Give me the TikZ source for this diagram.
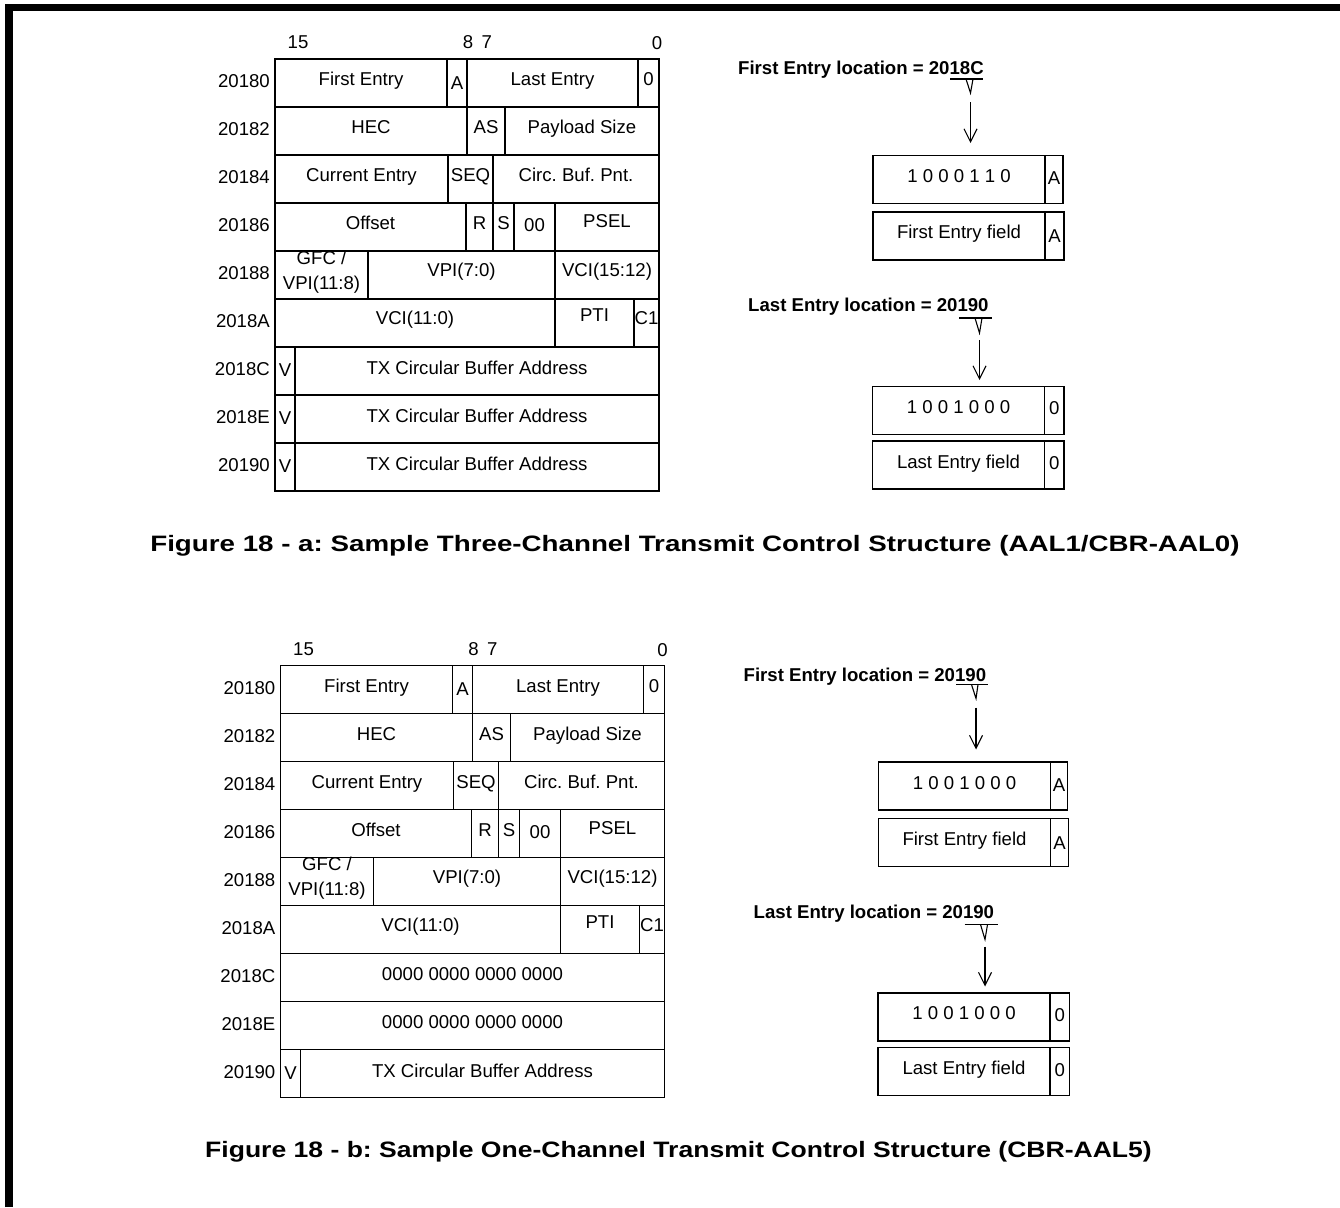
\documentclass[tikz,border=0pt]{standalone}
\usepackage{fontspec}
\setmainfont{Liberation Sans}
\newfontfamily\capfont[FakeStretch=1.19]{Liberation Sans}
\usetikzlibrary{arrows.meta}

\tikzset{
  fieldbox/.style={draw, line width=1.1pt, inner sep=0pt, outer sep=0pt},
  fieldtext/.style={inner sep=0pt, text height=0.72em, text depth=0.21em, align=center},
  twoline/.style={inner sep=0pt, align=center},
  addr/.style={anchor=east, inner sep=0pt, text height=0.72em, text depth=0.21em},
  loclabel/.style={anchor=west, inner sep=0pt, font=\bfseries, text height=0.72em, text depth=0.21em},
  ptr/.style={-{Straight Barb[length=13pt,width=13pt]}, line width=1.1pt},
  notch/.style={line width=1.1pt},
  figcap/.style={inner sep=0pt, font={\capfont\bfseries\fontsize{22.3}{26}\selectfont},
    text height=0.72em, text depth=0.21em},
}

% one field: [raise]{name}{x left}{x right}{y top}{text}
\newcommand{\fld}[6][2]{%
  \node[fieldbox, minimum width={(#4-#3)*1pt}, minimum height=48pt] (#2) at ({(#3+#4)/2},{#5+24}) {};
  \node[fieldtext] (#2-t) at ({(#3+#4)/2},{#5+24-#1}) {#6};}

% bit numbers, addresses and the first six words (same in both tables)
\newcommand{\ctlhead}{%
  \node[fieldtext] (b15) at (298,44) {15};
  \node[fieldtext] (b87) at (477.5,44) {8\hspace{8.5pt}7};
  \node[fieldtext] (b0) at (657,45) {0};
  \foreach \lbl [count=\i from 0] in {20180,20182,20184,20186,20188,2018A,2018C,2018E,20190}
    \node[addr] (r\i) at (270,{83+48*\i}) {\lbl};
  % 20180
  \fld{fe}{275}{447}{59}{First Entry}
  \fld[-1.5]{fa}{447}{467}{59}{A}
  \fld{le}{467}{638}{59}{Last Entry}
  \fld{lz}{638}{659}{59}{0}
  % 20182
  \fld{hec}{275}{467}{107}{HEC}
  \fld{as}{467}{505}{107}{AS}
  \fld{psz}{505}{659}{107}{Payload Size}
  % 20184
  \fld{ce}{275}{448}{155}{Current Entry}
  \fld{seq}{448}{493}{155}{SEQ}
  \fld{cbp}{493}{659}{155}{Circ. Buf. Pnt.}
  % 20186
  \fld{off}{275}{466}{203}{Offset}
  \fld{r}{466}{493}{203}{R}
  \fld{s}{493}{514}{203}{S}
  \fld[0]{oo}{514}{555}{203}{00}
  \fld[4]{psel}{555}{659}{203}{PSEL}
  % 20188
  \fld{gfc}{275}{368}{251}{}
  \node[twoline] (gfc-l) at (321.5,272) {GFC /\\[3pt]VPI(11:8)};
  \fld[3]{vpi}{368}{555}{251}{VPI(7:0)}
  \fld[3]{vcih}{555}{659}{251}{VCI(15:12)}
  % 2018A
  \fld[3]{vcil}{275}{555}{299}{VCI(11:0)}
  \fld[6]{pti}{555}{634}{299}{PTI}
  \fld[3]{c1}{634}{659}{299}{C1}}

\begin{document}
\frenchspacing
\fontsize{18.6}{22}\selectfont
\begin{tikzpicture}[x=1pt, y=-1pt]
  \useasboundingbox (0,0) rectangle (1340,1207);

  % frame, top and left only
  \draw[line width=7.5pt] (8.8,1207) -- (8.8,7.3) -- (1340,7.3);

  % ---------- Figure 18 - a ----------
  \begin{scope}[name prefix=a-]
    \ctlhead
    \fld[-1]{v6}{275}{295}{347}{V}
    \fld[1]{tx6}{295}{659}{347}{TX Circular Buffer Address}
    \fld[-1]{v7}{275}{295}{395}{V}
    \fld[1]{tx7}{295}{659}{395}{TX Circular Buffer Address}
    \fld[-1]{v8}{275}{295}{443}{V}
    \fld[1]{tx8}{295}{659}{443}{TX Circular Buffer Address}

    % first entry pointer
    \node[loclabel] (fl) at (738,70) {First Entry location = 2018C};
    \draw[notch] (950,79) -- (983,79);
    \draw[notch] (966,79) -- (970.5,93) -- (973,79);
    \coordinate (fn) at (970.5,93);
    \fld[1.5]{fv}{873}{1045}{155.5}{1 0 0 0 1 1 0}
    \fld[-0.5]{fva}{1045}{1063}{155.5}{A}
    \fld{ff}{873}{1045}{212}{First Entry field}
    \fld[-2]{ffa}{1045}{1064}{212}{A}
    \draw[ptr, shorten <=9pt, shorten >=12.5pt] (fn) -- (fn |- fv.north);

    % last entry pointer
    \node[loclabel] (ll) at (748,307) {Last Entry location = 20190};
    \draw[notch] (959,318) -- (992,318);
    \draw[notch] (975,318) -- (979.5,333) -- (982,318);
    \coordinate (ln) at (979.5,333);
    \fld{lv}{872.5}{1044.5}{386.5}{1 0 0 1 0 0 0}
    \fld[0.5]{lva}{1044.5}{1064}{386.5}{0}
    \fld[1.5]{lf}{872.5}{1044.5}{441}{Last Entry field}
    \fld[0]{lfa}{1044.5}{1064}{441}{0}
    \draw[ptr, shorten <=7pt, shorten >=6.5pt] (ln) -- (ln |- lv.north);
  \end{scope}

  \node[figcap] (capa) at (695,547)
    {\scalebox{1.045}[1]{Figure 18 - a: Sample Three-Channel Transmit Control Structure (AAL1/CBR-AAL0)}};

  % ---------- Figure 18 - b ----------
  \begin{scope}[shift={(5.5,606.5)}, name prefix=b-]
    \ctlhead
    \fld{z6}{275}{659}{347}{0000 0000 0000 0000}
    \fld{z7}{275}{659}{395}{0000 0000 0000 0000}
    \fld[-1]{v8}{275}{295}{443}{V}
    \fld[1]{tx8}{295}{659}{443}{TX Circular Buffer Address}

    % first entry pointer
    \node[loclabel] (fl) at (738,70) {First Entry location = 20190};
    \draw[notch] (950.5,78) -- (982.5,78);
    \draw[notch] (966,78) -- (970.5,92) -- (972.5,78);
    \coordinate (fn) at (970.5,92);
    \fld[1.5]{fv}{873}{1045}{155.5}{1 0 0 1 0 0 0}
    \fld[-0.5]{fva}{1045}{1062}{155.5}{A}
    \fld{ff}{873}{1045}{212}{First Entry field}
    \fld[-2]{ffa}{1045}{1063}{212}{A}
    \draw[ptr, shorten <=9pt, shorten >=12.5pt] (fn) -- (fn |- fv.north);

    % last entry pointer
    \node[loclabel] (ll) at (748,307) {Last Entry location = 20190};
    \draw[notch] (959,318) -- (992,318);
    \draw[notch] (975,318) -- (979.5,333) -- (982,318);
    \coordinate (ln) at (979.5,333);
    \fld{lv}{872.5}{1044.5}{386.5}{1 0 0 1 0 0 0}
    \fld[0.5]{lva}{1044.5}{1064}{386.5}{0}
    \fld[1.5]{lf}{872.5}{1044.5}{441}{Last Entry field}
    \fld[0]{lfa}{1044.5}{1064}{441}{0}
    \draw[ptr, shorten <=7pt, shorten >=6.5pt] (ln) -- (ln |- lv.north);
  \end{scope}

  \node[figcap] (capb) at (678.5,1153)
    {Figure 18 - b: Sample One-Channel Transmit Control Structure (CBR-AAL5)};
\end{tikzpicture}
\end{document}
